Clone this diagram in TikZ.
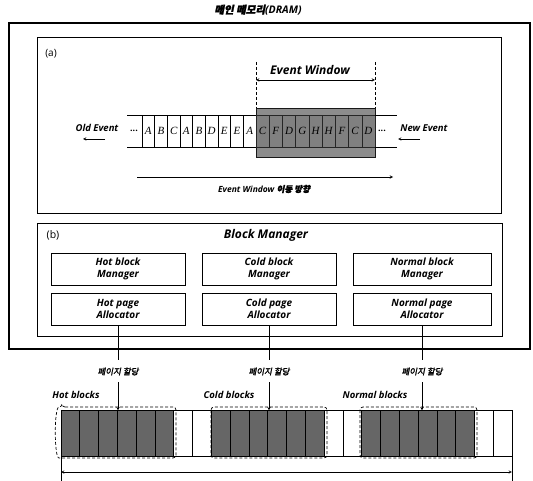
\documentclass[tikz,border=0pt]{standalone}
\usepackage{fontspec}
\setmainfont{Open Sans}
\newfontfamily\krfont{Noto Sans CJK KR}[FakeSlant=0.2,FakeBold=2]
\newfontfamily\cellfont{Liberation Serif}
\usetikzlibrary{arrows,positioning,shadows}

\tikzset{
  lbl/.style={font=\bfseries\itshape\fontsize{9}{10}\selectfont, inner sep=0pt},
  panel/.style={draw, line width=0.9pt, fill=white,
    drop shadow={shadow xshift=1.3pt, shadow yshift=-1.3pt, fill=black!80, opacity=1}},
  mgrbox/.style={panel, minimum height=32pt, align=center, inner sep=0pt,
    font=\bfseries\itshape\fontsize{10}{12}\selectfont},
  wcell/.style={draw, line width=0.5pt, minimum width=12.67pt, minimum height=32pt,
    inner sep=0pt, outer sep=0pt, anchor=north west, font=\cellfont\itshape\fontsize{11}{11}\selectfont},
  dcell/.style={wcell, draw=black!85, fill=black!50, minimum width=13.22pt},
  bcell/.style={draw, line width=0.6pt, fill=black!60, minimum width=18.79pt, minimum height=46pt,
    inner sep=0pt, outer sep=0pt, anchor=north west},
  ecell/.style={bcell, fill=white},
  grp/.style={draw, densely dashed, line width=0.7pt, rounded corners=3pt},
}

\begin{document}
\begin{tikzpicture}[x=1pt,y=-1pt,line width=0.6pt]
\useasboundingbox (0,0) rectangle (533,481);

% main memory
\node[lbl, font=\bfseries\itshape\fontsize{10.5}{11}\selectfont] (title) at (258,10) {{\krfont 메인 메모리}(DRAM)};
\draw[line width=1.6pt] (9,23) rectangle (530,349);

% (a) event window
\draw[panel] (37,37) rectangle (501,213);
\node[font=\fontsize{10}{11}\selectfont] (alab) at (51,54) {(a)};

\coordinate (ewl) at (256,62);
\coordinate (ewr) at (375,62);
\draw[densely dashed, line width=0.5pt] (ewl) -- ++(0,46);
\draw[densely dashed, line width=0.5pt] (ewr) -- ++(0,46);
\draw[stealth-stealth, line width=0.5pt] ([yshift=-18pt]ewl) -- ([yshift=-18pt]ewr);
\node[lbl, font=\bfseries\itshape\fontsize{12}{12}\selectfont] (ewtxt) at (310,70) {Event Window};

% older events
\foreach \ch [count=\i from 0] in {A,B,C,A,B,D,E,E,A}
  \node[wcell] (w\i) at ({142+12.67*\i},115) {\ch};
\draw[line width=0.5pt] (127,115) -- (w0.north west) (127,147) -- (w0.south west);

% events inside the window
\filldraw[draw=black!90, fill=black!45, line width=0.8pt] (256,108) rectangle (375,157);
\foreach \ch [count=\i from 0] in {C,F,D,G,H,H,F,C,D}
  \node[dcell] (d\i) at ({256+13.22*\i},115) {\ch};
\draw[line width=0.5pt] (d8.north east) -- (397,115) (d8.south east) -- (397,147);

\node[lbl, font=\bfseries\itshape\fontsize{9.5}{10}\selectfont] (oldev) at (97,128) {Old Event};
\node[lbl, font=\bfseries\fontsize{9}{10}\selectfont] (ldots) at (134,131) {...};
\draw[-stealth, line width=0.5pt] (105,139) -- (83,139);
\node[lbl, font=\bfseries\fontsize{9}{10}\selectfont] (rdots) at (382,131) {...};
\node[lbl, font=\bfseries\itshape\fontsize{9.5}{10}\selectfont] (newev) at (424,128) {New Event};
\draw[-stealth, line width=0.5pt] (420,139) -- (398,139);

\coordinate (mvl) at (137,177);
\coordinate (mvr) at (393,177);
\draw[-stealth, line width=0.5pt] (mvl) -- (mvr);
\node[lbl, font=\bfseries\itshape\fontsize{8.5}{9}\selectfont] (mvtxt) at (264,189) {Event Window {\krfont 이동 방향}};

% (b) block manager
\draw[panel] (37,223) rectangle (502,336);
\node[font=\fontsize{10.5}{11}\selectfont] (blab) at (53,235) {(b)};
\node[lbl, font=\bfseries\itshape\fontsize{12}{12}\selectfont] (bmtxt) at (266,235) {Block Manager};

\node[mgrbox, minimum width=134pt] (hotmgr) at (118,269) {Hot block\\Manager};
\node[mgrbox, minimum width=134pt] (coldmgr) at (269,269) {Cold block\\Manager};
\node[mgrbox, minimum width=138pt] (normmgr) at (422,269) {Normal block\\Manager};
\node[mgrbox, minimum width=134pt] (hotalloc) at (118,309) {Hot page\\Allocator};
\node[mgrbox, minimum width=134pt] (coldalloc) at (269,309) {Cold page\\Allocator};
\node[mgrbox, minimum width=138pt] (normalloc) at (422,309) {Normal page\\Allocator};

% blocks in memory
\foreach \g in {0,1,2}{
  \foreach \k in {0,...,5}
    \node[bcell] (b\g\k) at ({61+18.79*(8*\g+\k)},410) {};
  \foreach \k in {6,7}
    \node[ecell] (b\g\k) at ({61+18.79*(8*\g+\k)},410) {};
}
\draw[grp] (62,407) -- (176,407) -- (176,458) -- (62,458) to[out=180,in=180,looseness=0.4] cycle;
\draw[grp] (211,407) rectangle (327,458);
\draw[grp] (360,407) rectangle (477,458);

\node[lbl, font=\bfseries\itshape\fontsize{9.5}{10}\selectfont] (hotblk) at (76,395) {Hot blocks};
\node[lbl, font=\bfseries\itshape\fontsize{9.5}{10}\selectfont] (coldblk) at (229,395) {Cold blocks};
\node[lbl, font=\bfseries\itshape\fontsize{9.5}{10}\selectfont] (normblk) at (375,395) {Normal blocks};

\foreach \src/\nm in {hotalloc/hotpg, coldalloc/coldpg, normalloc/normpg}{
  \node[lbl, font=\krfont\fontsize{8.5}{9}\selectfont] (\nm) at ([yshift=-46pt]\src.south) {페이지 할당};
  \draw[line width=0.5pt] (\src.south) -- ([yshift=-35pt]\src.south);
  \draw[-stealth, line width=0.6pt] ([yshift=-57pt]\src.south) -- ([yshift=-85pt]\src.south);
}

\coordinate (spl) at (b00.south west);
\coordinate (spr) at (b27.south east);
\draw[line width=0.5pt] (spl) -- ++(0,25) (spr) -- ++(0,25);
\draw[stealth-stealth, line width=0.5pt] ([yshift=-16pt]spl) -- ([yshift=-16pt]spr);
\end{tikzpicture}
\end{document}
